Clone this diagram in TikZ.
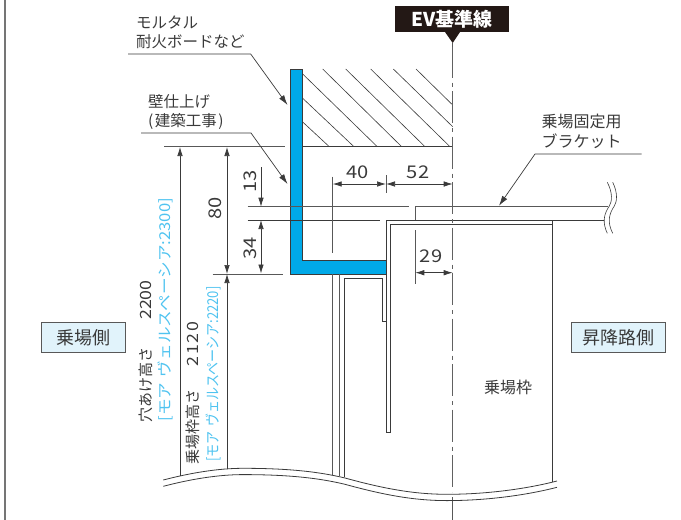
\documentclass[tikz,border=0pt]{standalone}
\usepackage{fontspec}
\setmainfont{Noto Sans CJK JP}
\newfontfamily\dimfont[FakeStretch=1.15]{Noto Sans CJK JP}
\usetikzlibrary{arrows.meta}
\definecolor{inkgray}{HTML}{3A3A3A}
\definecolor{wallblue}{HTML}{00A9E8}
\definecolor{noteblue}{HTML}{4FC3F0}
\definecolor{sidefill}{HTML}{E1F3FB}
\definecolor{evblack}{HTML}{231815}
\tikzset{
	outline/.style={draw=inkgray, line width=0.8pt},
	hatchline/.style={draw=inkgray, line width=0.6pt},
	extline/.style={draw=inkgray!85, line width=0.8pt},
	dimline/.style={draw=inkgray, line width=0.7pt, {Latex[length=9pt,width=5.5pt]}-{Latex[length=9pt,width=5.5pt]}},
	dimend/.style={draw=inkgray, line width=0.7pt, -{Latex[length=9pt,width=5.5pt]}},
	leader/.style={draw=inkgray, line width=0.7pt, -{Latex[length=10pt,width=6pt]}},
	centerline/.style={draw=inkgray!80, line width=0.9pt, dash pattern=on 32pt off 5pt on 4pt off 4.5pt},
	textlabel/.style={text=inkgray, font=\fontsize{15.5}{15.5}\selectfont, inner sep=0pt, anchor=west},
	dimlabel/.style={text=inkgray, font=\fontsize{17.5}{17.5}\dimfont, inner sep=0pt},
	notelabel/.style={text=noteblue, font=\fontsize{15}{15}\selectfont, inner sep=0pt, anchor=west, rotate=90},
	heightlabel/.style={text=inkgray, font=\fontsize{15}{15}\selectfont, inner sep=0pt, anchor=west, rotate=90},
	sidebox/.style={draw=inkgray!85, line width=0.9pt, fill=sidefill, text=inkgray, font=\fontsize{18}{18}\selectfont, inner sep=0pt}
}
\begin{document}
\begin{tikzpicture}[x=1pt, y=-1pt]
	\useasboundingbox (0.00,0.00) rectangle (681.00,520.00);
	\draw[draw=inkgray!70, line width=1.4pt] (5.00,0.00) -- (5.00,520.00);
	\draw[hatchline] (302.70,122.00) -- (329.30,146.70);
	\draw[hatchline] (302.70,98.30) -- (354.00,146.70);
	\draw[hatchline] (302.70,74.00) -- (377.30,146.70);
	\draw[hatchline] (322.70,69.00) -- (401.70,146.70);
	\draw[hatchline] (345.70,69.00) -- (425.00,146.70);
	\draw[hatchline] (370.70,69.00) -- (450.00,146.70);
	\draw[hatchline] (393.30,69.00) -- (452.70,126.70);
	\draw[hatchline] (416.00,69.00) -- (452.70,105.00);
	\draw[outline] (302.70,69.00) -- (302.70,146.70) -- (452.70,146.70);
	\draw[extline] (164.00,146.70) -- (285.00,146.70);
	\draw[outline, fill=wallblue] (290.70,69.00) -- (302.70,69.00) -- (302.70,260.00) -- (386.00,260.00) -- (386.00,274.00) -- (290.70,274.00) -- cycle;
	\draw[extline] (247.70,206.70) -- (409.00,206.70);
	\draw[outline] (247.70,220.00) -- (380.00,220.00);
	\draw[extline] (415.30,220.00) -- (415.30,206.70) -- (608.30,206.70);
	\draw[outline] (386.00,432.00) -- (386.00,220.00) -- (604.00,220.00);
	\draw[outline] (386.00,432.00) -- (390.30,432.00) -- (390.30,224.30) -- (552.70,224.30);
	\draw[outline] (552.70,220.00) -- (552.70,482.00);
	\draw[extline] (332.70,176.70) -- (332.70,253.30);
	\draw[extline] (332.70,274.00) -- (332.70,474.50);
	\draw[extline] (339.30,274.00) -- (339.30,476.00);
	\draw[outline] (344.30,477.00) -- (344.30,278.30) -- (382.00,278.30) -- (382.00,321.70) -- (386.00,321.70);
	\draw[extline] (386.00,175.00) -- (386.00,193.00);
	\draw[extline] (415.30,230.00) -- (415.30,284.00);
	\draw[extline] (212.70,274.30) -- (283.00,274.30);
	\draw[centerline] (452.70,45.50) -- (452.70,492.00);
	\draw[extline] (452.70,43.00) -- (452.70,47.00);
	\draw[extline] (452.70,497.00) -- (452.70,520.00);
	\coordinate (openTop) at (180.00,147.00);
	\coordinate (openBottom) at (180.00,476.00);
	\coordinate (eightyTop) at (227.00,147.00);
	\coordinate (eightyBottom) at (227.00,274.00);
	\coordinate (frameBottom) at (227.00,469.30);
	\coordinate (thirteenTop) at (261.00,167.00);
	\coordinate (thirteenBottom) at (261.00,206.70);
	\coordinate (thirtyfourTop) at (261.00,220.00);
	\coordinate (thirtyfourBottom) at (261.00,273.50);
	\coordinate (fortyLeft) at (332.70,184.00);
	\coordinate (fortyRight) at (386.00,184.00);
	\coordinate (fiftytwoRight) at (452.70,184.00);
	\coordinate (twentynineLeft) at (415.30,272.70);
	\coordinate (twentynineRight) at (452.70,272.70);
	\draw[dimend] (openBottom) -- (openTop);
	\draw[dimline] (eightyTop) -- (eightyBottom);
	\draw[dimend] (frameBottom) -- (eightyBottom);
	\draw[dimend] (thirteenTop) -- (thirteenBottom);
	\draw[dimline] (thirtyfourTop) -- (thirtyfourBottom);
	\draw[dimline] (fortyLeft) -- (fortyRight);
	\draw[dimline] (fortyRight) -- (fiftytwoRight);
	\draw[dimline] (twentynineLeft) -- (twentynineRight);
	\draw[outline] (163.30,480.00) .. controls (190.00,473.00) and (218.00,468.30) .. (243.00,468.30) .. controls (290.00,468.30) and (320.00,472.00) .. (345.00,478.00) .. controls (385.00,489.00) and (415.00,494.30) .. (447.00,494.30) .. controls (490.00,494.30) and (530.00,488.00) .. (557.00,481.00);
	\draw[outline] (163.30,486.30) .. controls (190.00,479.30) and (218.00,474.60) .. (243.00,474.60) .. controls (290.00,474.60) and (320.00,478.30) .. (345.00,484.30) .. controls (385.00,495.30) and (415.00,500.60) .. (447.00,500.60) .. controls (490.00,500.60) and (530.00,494.30) .. (557.00,487.30);
	\draw[hatchline] (607.30,182.30) .. controls (613.00,193.00) and (612.00,202.00) .. (609.30,206.00) .. controls (604.00,214.00) and (602.00,222.00) .. (607.30,233.30);
	\draw[hatchline] (612.70,182.30) .. controls (618.00,193.00) and (617.00,202.00) .. (614.30,206.00) .. controls (609.00,214.00) and (607.00,222.00) .. (612.70,233.30);
	\node[fill=evblack, text=white, font=\fontsize{19}{19}\selectfont\bfseries, minimum width=114pt, minimum height=26pt, inner sep=0pt] (evlabel) at (452.00,19.00) {EV基準線};
	\fill[evblack] (445.00,32.00) -- (460.00,32.00) -- (452.70,43.00) -- cycle;
	\node[textlabel] (mortar) at (136.00,23.00) {モルタル};
	\node[textlabel] (fireboard) at (136.00,42.00) {耐火ボードなど};
	\node[textlabel] (wallfinish) at (148.00,102.00) {壁仕上げ};
	\node[textlabel] (building) at (148.00,121.00) {(\hspace{1.5pt}建築工事\hspace{1.5pt})};
	\node[textlabel, font=\fontsize{16}{16}\selectfont] (hallfix) at (541.50,121.00) {乗場固定用};
	\node[textlabel, font=\fontsize{16}{16}\selectfont] (bracket) at (541.50,141.00) {ブラケット};
	\coordinate (fireStart) at (128.00,54.00);
	\coordinate (fireElbow) at (250.70,54.00);
	\coordinate (fireTip) at (287.50,105.00);
	\coordinate (wallStart) at (141.00,133.00);
	\coordinate (wallElbow) at (251.00,133.00);
	\coordinate (wallTip) at (287.50,184.00);
	\coordinate (bracketStart) at (641.70,154.00);
	\coordinate (bracketElbow) at (535.00,154.00);
	\coordinate (bracketTip) at (499.00,205.70);
	\draw[leader] (fireStart) -- (fireElbow) -- (fireTip);
	\draw[leader] (wallStart) -- (wallElbow) -- (wallTip);
	\draw[leader] (bracketStart) -- (bracketElbow) -- (bracketTip);
	\node[dimlabel] (dimforty) at (357.50,172.50) {40};
	\node[dimlabel] (dimfiftytwo) at (418.00,172.50) {52};
	\node[dimlabel] (dimtwentynine) at (431.00,256.00) {29};
	\node[dimlabel, rotate=90] (dimthirteen) at (250.00,181.00) {13};
	\node[dimlabel, rotate=90] (dimeighty) at (215.00,208.00) {80};
	\node[dimlabel, rotate=90] (dimthirtyfour) at (250.00,248.00) {34};
	\node[heightlabel] (openheight) at (146.00,423.00) {穴あけ高さ\hspace{28pt}{\fontsize{15.5}{15.5}\dimfont 2200}};
	\node[notelabel] (opennote) at (165.00,421.70) {\scalebox{1.11}[1]{[モア\hspace{5pt}ヴェルスペーシア:2300]}};
	\node[heightlabel] (frameheight) at (193.00,465.00) {乗場枠高さ\hspace{23pt}{\fontsize{15.5}{15.5}\dimfont 2\hspace{2pt}1\hspace{2pt}2\hspace{2pt}0}};
	\node[notelabel] (framenote) at (213.00,461.70) {\scalebox{0.87}[1]{[モア\hspace{5pt}ヴェルスペーシア:2220]}};
	\node[sidebox, minimum width=84.7pt, minimum height=30pt] (hallside) at (83.30,337.70) {乗場側};
	\node[sidebox, minimum width=93.3pt, minimum height=30pt] (shaftside) at (618.30,337.70) {昇降路側};
	\node[text=inkgray, font=\fontsize{16}{16}\selectfont, inner sep=0pt] (hallframe) at (508.00,387.00) {乗場枠};
\end{tikzpicture}
\end{document}
